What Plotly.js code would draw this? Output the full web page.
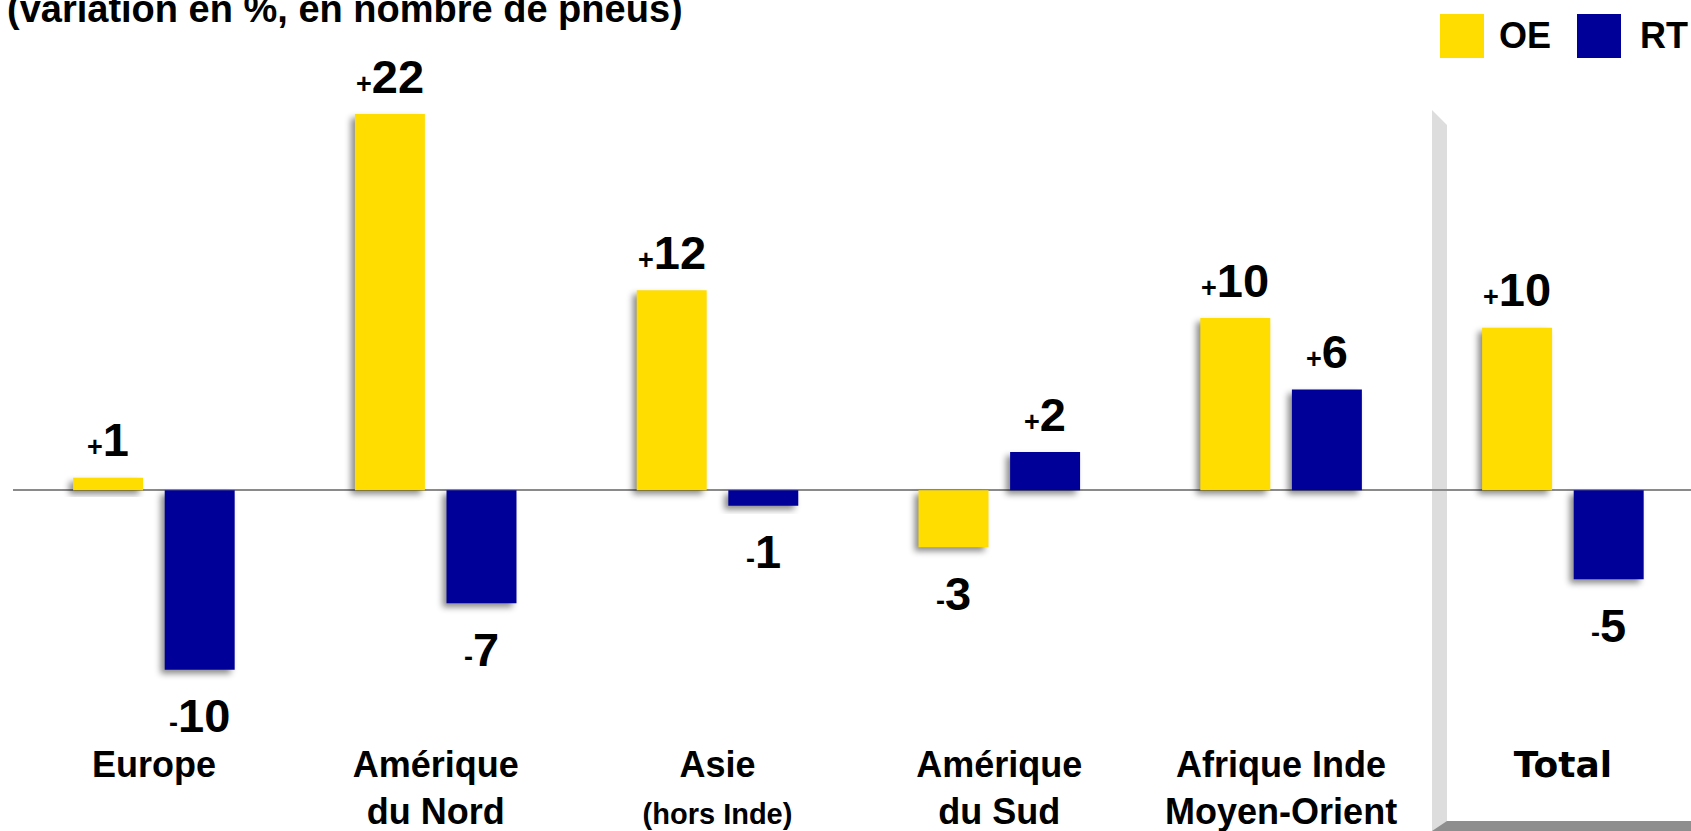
<!DOCTYPE html>
<html><head><meta charset="utf-8">
<script src="https://cdn.plot.ly/plotly-3.0.1.min.js"></script>
<style>
html,body{margin:0;padding:0;background:#fff;}
#chart{width:1691px;height:831px;}
.bars .point path{filter:url(#barShadow);}
</style></head><body>
<svg width="0" height="0" style="position:absolute">
  <defs>
    <filter id="barShadow" x="-50%" y="-50%" width="200%" height="200%" color-interpolation-filters="sRGB">
      <feGaussianBlur in="SourceAlpha" stdDeviation="3" result="blur"/>
      <feOffset in="blur" dx="-4" dy="4" result="off"/>
      <feFlood flood-color="#000" flood-opacity="0.45" result="col"/>
      <feComposite in="col" in2="off" operator="in" result="shadow"/>
      <feMerge><feMergeNode in="shadow"/><feMergeNode in="SourceGraphic"/></feMerge>
    </filter>
  </defs>
</svg>
<div id="chart"></div>
<script>
// ---- data ----
const categories = ['Europe', 'Amérique du Nord', 'Asie (hors Inde)', 'Amérique du Sud', 'Afrique Inde Moyen-Orient', 'Total'];
const tickLabels = ['Europe', 'Amérique<br>du Nord', 'Asie<br><span style="font-size:29px">(hors Inde)</span>', 'Amérique<br>du Sud', 'Afrique Inde<br>Moyen-Orient', '<span style="font-family:DejaVu Sans">Total</span>'];
const seriesNames = ['OE', 'RT'];
const oeValues = [0.74, 22.0, 11.7, -3.33, 10.07, 9.5];
const rtValues = [-10.5, -6.6, -0.9, 2.24, 5.9, -5.2];
const oeLabels = [1, 22, 12, -3, 10, 10];
const rtLabels = [-10, -7, -1, 2, 6, -5];
const chartTitle = '(variation en %, en nombre de pneus)';

// ---- styling / layout constants ----
const W = 1691, H = 831;
const ML = 13, MR = 0, MT = 0, MB = 91;
const PW = W - ML - MR, PH = H - MT - MB;
const px = x => (x - ML) / PW;
const py = y => 1 - (y - MT) / PH;
const colors = ['#FFDD00', '#000099'];
const FONT = 'Liberation Sans, Arial, sans-serif';
const bargap = 0.35, bargroupgap = 0.236;
const zeroPix = 490.3, unitPix = 17.1;
const yRange = [-(MT + PH - zeroPix) / unitPix, (zeroPix - MT) / unitPix];
const xRange = [-0.5, -0.5 + PW / 281.8];

const traces = [oeValues, rtValues].map((vals, j) => ({
  type: 'bar', name: seriesNames[j], x: categories, y: vals,
  marker: {color: colors[j], line: {width: 0}},
  hoverinfo: 'skip', showlegend: false
}));

function fmt(v) {
  const sign = v > 0 ? '+' : '-';
  return '<span style="font-size:27px">' + sign + '</span>' + Math.abs(v);
}

const annotations = [];
const slotOff = (1 - bargap) / 4;
[[oeValues, oeLabels], [rtValues, rtLabels]].forEach(([vals, labs], j) => {
  vals.forEach((v, i) => {
    annotations.push({
      xref: 'x', yref: 'y', x: i + (j === 0 ? -slotOff : slotOff), y: v,
      text: fmt(labs[i]), showarrow: false, xanchor: 'center', yanchor: 'middle',
      yshift: v >= 0 ? 38 : -46,
      font: {family: FONT, size: 47, color: '#000', weight: 'bold'}
    });
  });
});
// title
annotations.push({
  xref: 'paper', yref: 'paper', x: px(5), y: py(9), xanchor: 'left', yanchor: 'middle',
  text: chartTitle, showarrow: false,
  font: {family: FONT, size: 38, color: '#000', weight: 'bold'}
});
// legend texts
[[1497, 0], [1638, 1]].forEach(([xx, j]) => {
  annotations.push({
    xref: 'paper', yref: 'paper', x: px(xx), y: py(36), xanchor: 'left', yanchor: 'middle',
    text: seriesNames[j], showarrow: false,
    font: {family: FONT, size: 36, color: '#000', weight: 'bold'}
  });
});

const shapes = [
  {type: 'path', xref: 'paper', yref: 'paper', layer: 'below', line: {width: 0}, fillcolor: '#dddddd',
   path: `M${px(1432)},${py(110)} L${px(1447)},${py(125)} L${px(1447)},${py(831)} L${px(1432)},${py(831)} Z`},
  {type: 'path', xref: 'paper', yref: 'paper', layer: 'below', line: {width: 0}, fillcolor: '#8e8e8e',
   path: `M${px(1432)},${py(831)} L${px(1447)},${py(821)} L${px(1691)},${py(821)} L${px(1691)},${py(831)} Z`},
  {type: 'rect', xref: 'paper', yref: 'paper', line: {width: 0}, fillcolor: colors[0],
   x0: px(1440), x1: px(1484), y0: py(58), y1: py(14)},
  {type: 'rect', xref: 'paper', yref: 'paper', line: {width: 0}, fillcolor: colors[1],
   x0: px(1577), x1: px(1621), y0: py(58), y1: py(14)}
];

const layout = {
  width: W, height: H,
  margin: {l: ML, r: MR, t: MT, b: MB, pad: 0},
  paper_bgcolor: '#fff', plot_bgcolor: '#fff',
  barmode: 'group', bargap: bargap, bargroupgap: bargroupgap,
  showlegend: false,
  xaxis: {
    type: 'category', range: xRange, tickmode: 'array', tickvals: categories, ticktext: tickLabels,
    showgrid: false, zeroline: false, showline: false, ticks: '', automargin: false,
    tickfont: {family: FONT, size: 36, color: '#000', weight: 'bold'}, tickangle: 0
  },
  yaxis: {
    range: yRange, showgrid: false, showticklabels: false, ticks: '', showline: false,
    zeroline: true, zerolinecolor: '#8a8a8a', zerolinewidth: 2, automargin: false
  },
  annotations: annotations,
  shapes: shapes
};

function addShadow() {
  document.querySelectorAll('#chart .bars .point path').forEach(p => {
    p.setAttribute('filter', 'url(#barShadow)');
    p.style.filter = 'url(#barShadow)';
  });
}
const pr = Plotly.newPlot('chart', traces, layout, {staticPlot: true, displayModeBar: false});
addShadow();
pr.then(addShadow);
</script></body></html>
